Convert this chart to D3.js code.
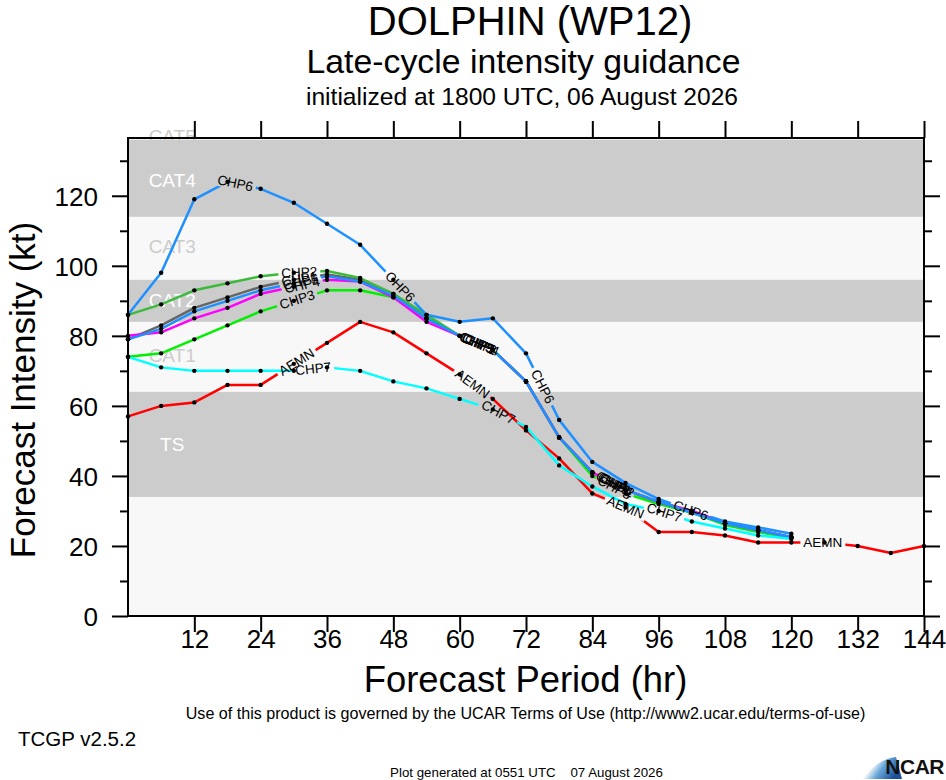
<!DOCTYPE html>
<html><head><meta charset="utf-8">
<script src="https://cdn.jsdelivr.net/npm/d3@7"></script>
<style>
body{margin:0;background:#fff}
svg{display:block}
text{font-family:"Liberation Sans",Arial,Helvetica,sans-serif}
</style>
</head><body>
<svg id="c" width="946" height="780"></svg>
<script>
// ---------- data ----------
const hoursAll = d3.range(0, 145, 6);          // 0..144
const hoursGuid = d3.range(0, 121, 6);         // 0..120
const xTicks = [12,24,36,48,60,72,84,96,108,120,132,144];
const yTicks = [0,20,40,60,80,100,120];
const bandNames = ["TS","CAT1","CAT2","CAT3","CAT4","CAT5"];
const bandLo =    [34, 64, 84, 96, 114, 136.5];
const bandHi =    [64, 84, 96, 114, 136, 136.5];
const bandLabelY =[49, 74.5, 90, 105.5, 124.5, 136.8];

const AEMN = [57,60,61,66,66,72,78,84,81,75,69,62,53,45,35,31,24,24,23,21,21,21,20,18,20];
const CHP1 = [79,83,88,91,94,96,97.5,96,92,85,80,76,67,51,41,36,32.5,30,26.5,24.5,22.5];
const CHP2 = [86,89,93,95,97,98,98.5,96.5,92,86,80,76,67,51,41,36,32.5,30,26.5,24.5,22.5];
const CHP3 = [74,75,79,83,87,90,93,93,91,85,80,76,67,51,40,35,32,29.5,26,24,22.3];
const CHP4 = [80,81,85,88,92,94,96,95.5,91,84,80,76,67,51,41,36,32.5,30,26.5,24.5,22.5];
const CHP5 = [79,82,87,90,93,95,97,95.5,91.5,85,80,76,67,51,41,36,32.7,29.5,26.5,24.5,22.5];
const CHP6 = [86,98,119,124,122,118,112,106,96,86,84,85,75,56,44,38,33.4,30,27,25.3,23.5];
const CHP7 = [74,71,70,70,70,70,71,70,67,65,62,59,54,43,37,32,30,27,25,23,22];

const seriesNames  = ["AEMN","CHP1","CHP2","CHP3","CHP4","CHP5","CHP6","CHP7"];
const seriesValues = [AEMN, CHP1, CHP2, CHP3, CHP4, CHP5, CHP6, CHP7];
const seriesColors = ["#ff0000","#666666","#3cba3c","#00f000","#ff00ff","#1e90ff","#1e90ff","#00ffff"];
const labelHours   = [[30.5,62.3,90,125.7],[31,63.5,88],[31,63.5,88.5],[30.6,63,88],[31.5,64,88.3],[31.2,63.2,87.7],[19.4,49.2,75,101.8],[33.5,67,97]];

// ---------- layout ----------
const svg = d3.select("#c");
const L = 128, R = 924, T = 138, B = 616;
const x = d3.scaleLinear().domain([0,144]).range([L,R]);
const y = d3.scaleLinear().domain([0,136.5]).range([B,T]);

// plot background
svg.append("rect").attr("x",L).attr("y",T).attr("width",R-L).attr("height",B-T).attr("fill","#f8f8f8");
// gray bands
const grayIdx = [0,2,4];
grayIdx.forEach(i=>{
  svg.append("rect").attr("x",L).attr("width",R-L)
    .attr("y",y(bandHi[i])).attr("height",y(bandLo[i])-y(bandHi[i]))
    .attr("fill","#cccccc");
});
// band labels
bandNames.forEach((n,i)=>{
  svg.append("text").attr("x",x(8)).attr("y",y(bandLabelY[i]))
    .attr("text-anchor","middle").attr("dominant-baseline","central")
    .attr("font-size",19).attr("fill", (i%2===0)?"#ffffff":"#cccccc").text(n);
});

// ---------- series ----------
const defs = svg.append("defs");
const line = d3.line();
const plotG = svg.append("g");
const labelG = svg.append("g");
const dotG = svg.append("g");
const labelFont = 13.5;

function textW(s){ // approx Arial widths
  const w = {C:.722,H:.722,P:.667,A:.667,E:.667,M:.833,N:.722,"1":.556,"2":.556,"3":.556,"4":.556,"5":.556,"6":.556,"7":.556};
  return s.split("").reduce((a,c)=>a+(w[c]||.6),0)*labelFont;
}

seriesNames.forEach((name,si)=>{
  const vals = seriesValues[si];
  const hrs = vals.length===hoursAll.length ? hoursAll : hoursGuid;
  const pts = vals.map((v,i)=>[x(hrs[i]), y(v)]);
  const maskId = "m"+si;
  const mask = defs.append("mask").attr("id",maskId).attr("maskUnits","userSpaceOnUse")
    .attr("x",0).attr("y",0).attr("width",946).attr("height",780);
  mask.append("rect").attr("x",0).attr("y",0).attr("width",946).attr("height",780).attr("fill","#fff");
  const tw = textW(name);
  labelHours[si].forEach(h=>{
    let k = hrs.findIndex((hh,i)=> i<hrs.length-1 && h>=hh && h<=hrs[i+1]);
    if(k<0) k = hrs.length-2;
    const t = (h-hrs[k])/(hrs[k+1]-hrs[k]);
    const px = pts[k][0]+t*(pts[k+1][0]-pts[k][0]);
    const py = pts[k][1]+t*(pts[k+1][1]-pts[k][1]);
    let ang = Math.atan2(pts[k+1][1]-pts[k][1], pts[k+1][0]-pts[k][0])*180/Math.PI;
    mask.append("rect").attr("x",px-tw/2-3).attr("y",py-6).attr("width",tw+6).attr("height",12)
      .attr("fill","#000").attr("transform",`rotate(${ang},${px},${py})`);
    labelG.append("text").attr("x",px).attr("y",py)
      .attr("text-anchor","middle").attr("dominant-baseline","central")
      .attr("font-size",labelFont).attr("fill","#000")
      .attr("transform",`rotate(${ang},${px},${py})`).text(name);
  });
  plotG.append("path").attr("d",line(pts)).attr("fill","none")
    .attr("stroke",seriesColors[si]).attr("stroke-width",2.5).attr("stroke-linejoin","round")
    .attr("mask",`url(#${maskId})`);
  pts.forEach(p=>dotG.append("circle").attr("cx",p[0]).attr("cy",p[1]).attr("r",2.2).attr("fill","#000"));
});
labelG.raise();

// ---------- frame & ticks ----------
const frame = svg.append("g").attr("stroke","#000").attr("stroke-width",2).attr("fill","none");
frame.append("rect").attr("x",L).attr("y",T).attr("width",R-L).attr("height",B-T);

const axB = d3.axisBottom(x).tickValues(xTicks).tickSize(16).tickFormat(d=>d).tickSizeOuter(0);
const gB = svg.append("g").attr("transform",`translate(0,${B})`).call(axB);
const axT = d3.axisTop(x).tickValues(xTicks).tickSize(17).tickFormat("").tickSizeOuter(0);
const gT = svg.append("g").attr("transform",`translate(0,${T})`).call(axT);
const yMinor = d3.range(10,131,20);
const axL = d3.axisLeft(y).tickValues(yTicks).tickSize(16).tickFormat(d=>d).tickSizeOuter(0);
const gL = svg.append("g").attr("transform",`translate(${L},0)`).call(axL);
const axLm = d3.axisLeft(y).tickValues(yMinor).tickSize(8).tickFormat("").tickSizeOuter(0);
const gLm = svg.append("g").attr("transform",`translate(${L},0)`).call(axLm);
const axR = d3.axisRight(y).tickValues(yTicks).tickSize(16).tickFormat("").tickSizeOuter(0);
const gR = svg.append("g").attr("transform",`translate(${R},0)`).call(axR);
const axRm = d3.axisRight(y).tickValues(yMinor).tickSize(8).tickFormat("").tickSizeOuter(0);
const gRm = svg.append("g").attr("transform",`translate(${R},0)`).call(axRm);
[gB,gT,gL,gLm,gR,gRm].forEach(g=>{
  g.select(".domain").remove();
  g.selectAll(".tick line").attr("stroke","#000").attr("stroke-width",2);
  g.selectAll("text").attr("font-family","Liberation Sans, Arial, sans-serif").attr("fill","#000");
});
gB.selectAll(".tick text").attr("font-size",26).attr("dy",null).attr("y",32).attr("dominant-baseline","auto");
gL.selectAll(".tick text").attr("font-size",26).attr("x",-30).attr("dy","0.36em");

// ---------- titles ----------
function txt(xp,yp,s,size,anchor,extra){
  const t = svg.append("text").attr("x",xp).attr("y",yp).attr("font-size",size)
    .attr("text-anchor",anchor||"middle").attr("fill","#000").text(s);
  if(extra) extra(t);
  return t;
}
txt(530,35,"DOLPHIN (WP12)",40);
txt(523.5,73,"Late-cycle intensity guidance",33.8);
txt(522,105,"initialized at 1800 UTC, 06 August 2026",24.6);
txt(0,0,"Forecast Intensity (kt)",35,"middle",t=>t.attr("transform","translate(35,390) rotate(-90)"));
txt(525.5,692,"Forecast Period (hr)",36.4);
txt(525.5,719,"Use of this product is governed by the UCAR Terms of Use (http://www2.ucar.edu/terms-of-use)",16.1);
txt(18,746,"TCGP v2.5.2",20.5,"start");
txt(526.5,777,"Plot generated at 0551 UTC\u00a0\u00a0\u00a0 07 August 2026",13.3);

// ---------- NCAR logo ----------
const grad = defs.append("linearGradient").attr("id","ng").attr("x1","0").attr("y1","0").attr("x2","1").attr("y2","0.4");
grad.append("stop").attr("offset","0").attr("stop-color","#e8a060");
grad.append("stop").attr("offset","0.35").attr("stop-color","#ffffff");
grad.append("stop").attr("offset","0.6").attr("stop-color","#6aa8d8");
grad.append("stop").attr("offset","1").attr("stop-color","#1a4f9a");
svg.append("path").attr("d","M862,779 C872,766 884,758 896,757 L902,779 Z").attr("fill","url(#ng)");
svg.append("text").attr("x",944).attr("y",774).attr("text-anchor","end").attr("font-size",21)
  .attr("font-weight","bold").attr("fill","#111").attr("letter-spacing","-0.5").text("NCAR");
</script>
</body></html>
